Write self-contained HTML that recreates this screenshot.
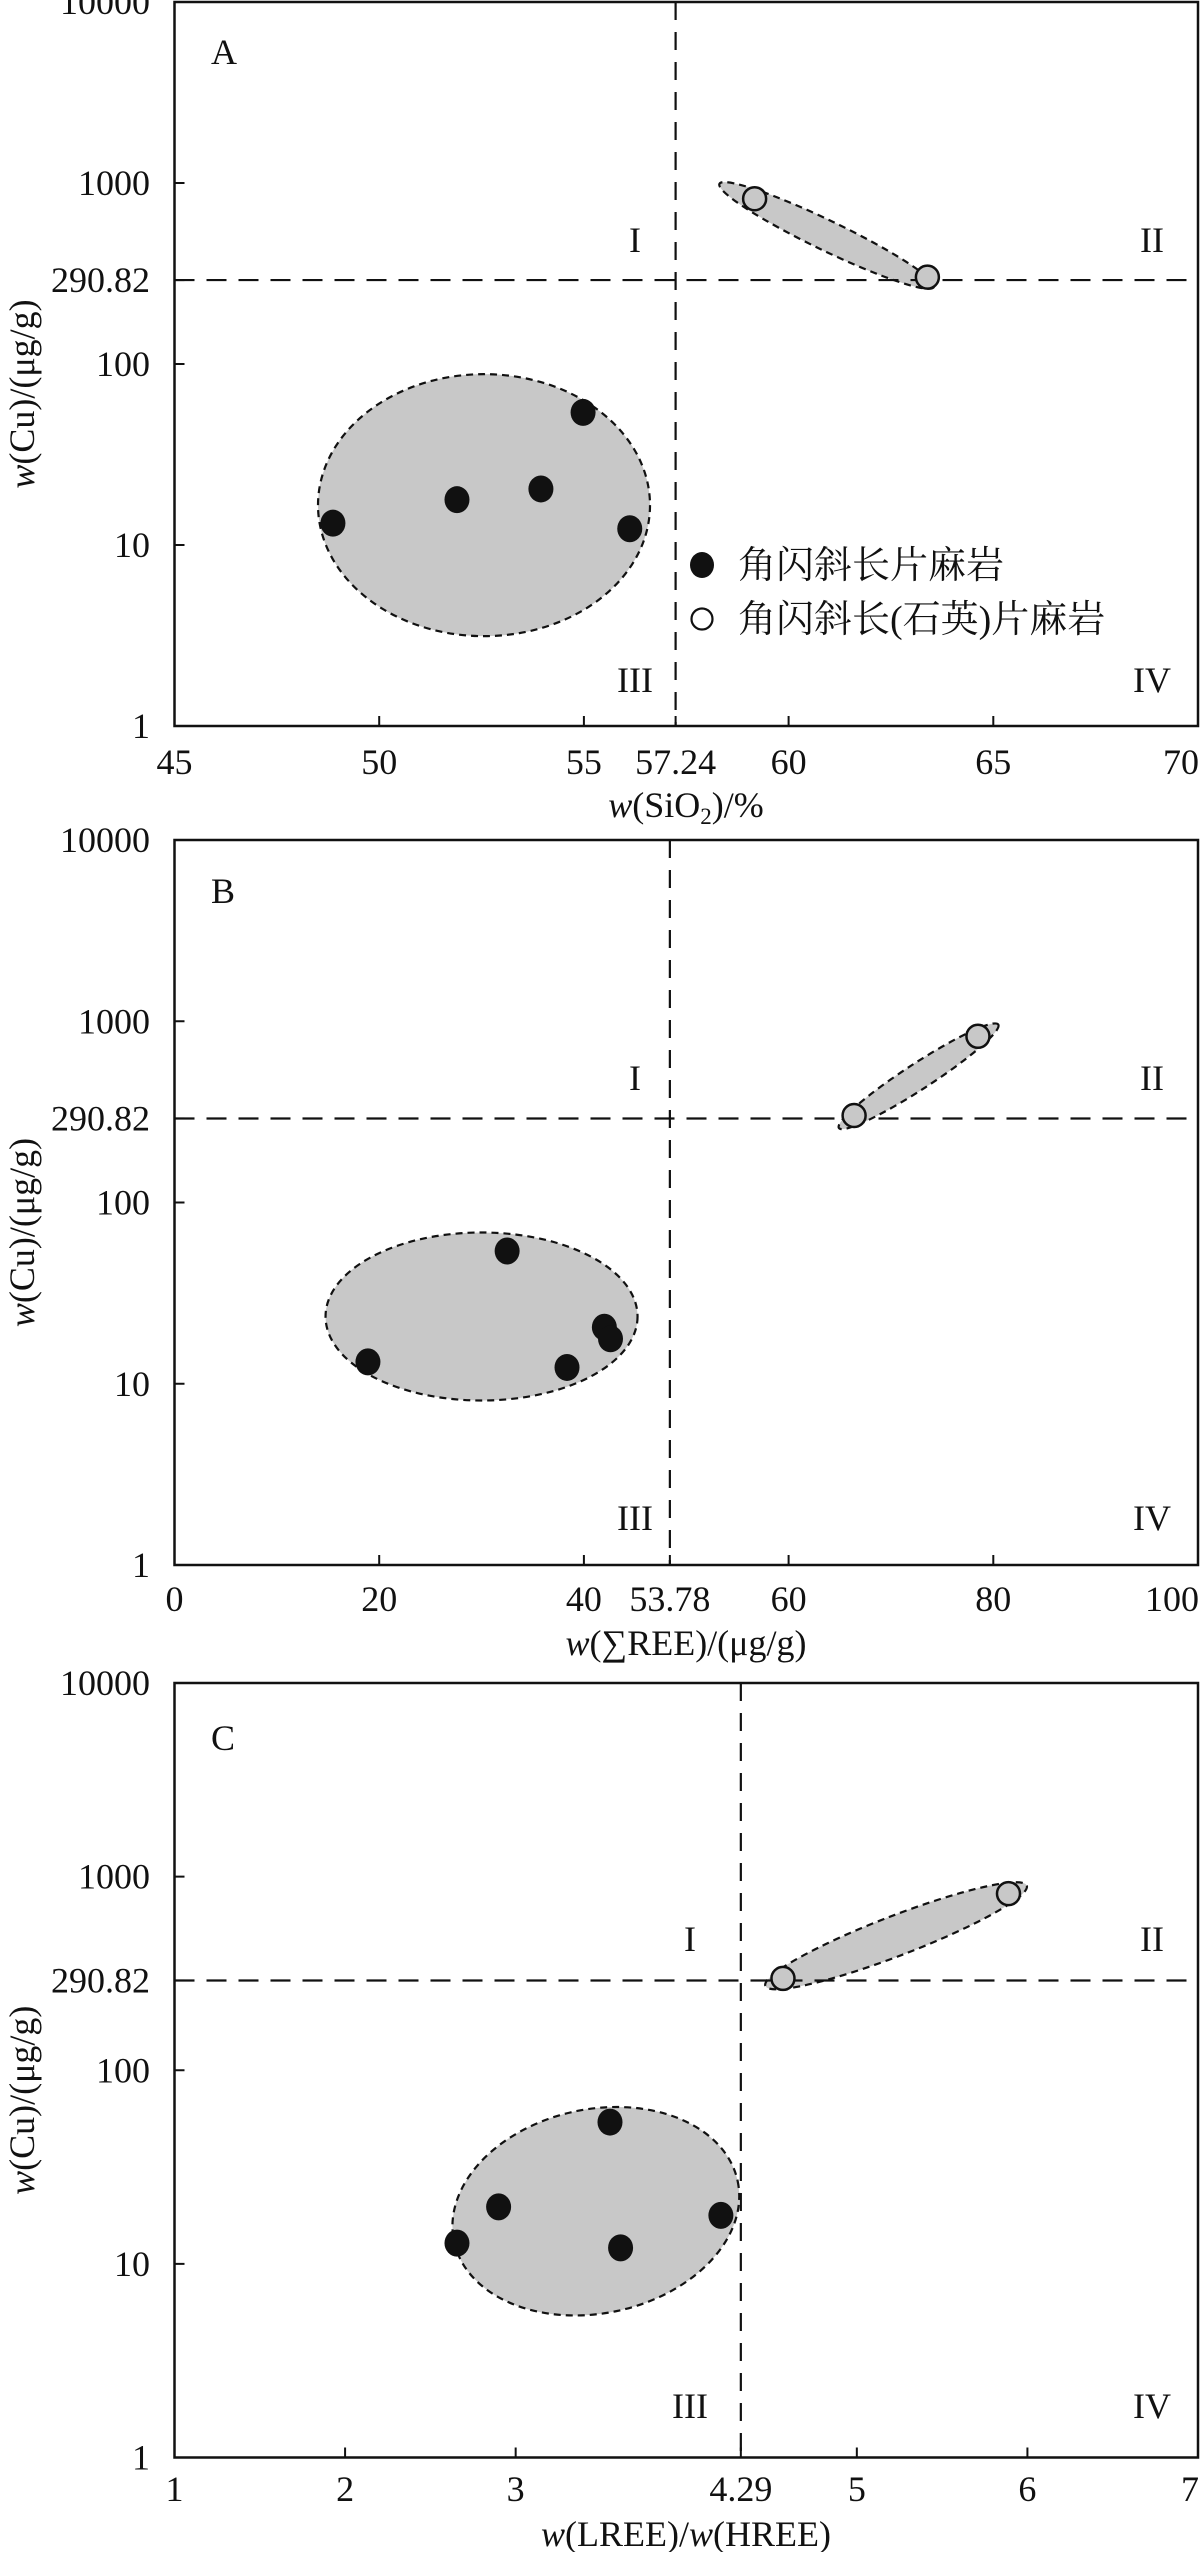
<!DOCTYPE html>
<html><head><meta charset="utf-8">
<style>
html,body{margin:0;padding:0;background:#fff;}
svg{display:block;}
text{font-family:"Liberation Serif","Noto Serif CJK SC","Noto Sans CJK SC",serif;fill:#111;}
</style></head>
<body>
<svg id="fig" width="1200" height="2552" viewBox="0 0 1200 2552" xmlns="http://www.w3.org/2000/svg"></svg>
<script>
// ---- Data ----
const cuFilled = [13.2, 17.8, 20.4, 54, 12.3];
const cuOpen = [819, 302];
const sio2Filled = [48.87, 51.9, 53.95, 54.98, 56.12];
const sio2Open = [59.17, 63.39];
const reeFilled = [18.9, 32.5, 42.0, 42.6, 38.35];
const reeOpen = [66.4, 78.5];
const cuFilledB = [13.2, 54, 20.5, 17.7, 12.3];
const cuOpenB = [302, 826];
const lhFilled = [2.656, 2.90, 3.553, 3.615, 4.203];
const lhOpen = [4.567, 5.889];
const cuFilledC = [12.8, 19.7, 54, 12.1, 17.8];
const cuOpenC = [298, 817];
const yTicks = [1, 10, 100, 1000, 10000];
const yThreshold = 290.82;
const xTicksA = [45, 50, 55, 60, 65, 70];
const xTicksB = [0, 20, 40, 60, 80, 100];
const xTicksC = [1, 2, 3, 5, 6, 7];
const xThreshA = 57.24, xThreshB = 53.78, xThreshC = 4.29;
// position where the original figure draws the threshold line (B is drawn off-scale in the source)
const xThreshDrawA = 57.24, xThreshDrawB = 48.4, xThreshDrawC = 4.32;
// ellipse fields: [cx value, cy value (Cu), rx px, ry px, rotation deg]
const fieldA = [[52.56, 16.6, 166, 131, 0], [60.93, 513, 119, 15, 25.7]];
const fieldB = [[30.0, 23.5, 156, 84, 0], [72.7, 497, 95, 13, -33]];
const fieldC = [[3.47, 18.7, 145, 102, -12], [5.23, 495, 140, 20, -21]];

const NS = "http://www.w3.org/2000/svg";
const svg = document.getElementById("fig");
const FS = 36;
function mk(tag, attrs, parent) {
  const e = document.createElementNS(NS, tag);
  for (const k in attrs) e.setAttribute(k, attrs[k]);
  (parent || svg).appendChild(e);
  return e;
}

function panel(cfg) {
  const g = mk("g", {});
  
  
  const L = 174.5, R = 1198, T = cfg.top, B = cfg.bottom;
  const xs = v => L + (v - cfg.xmin) / (cfg.xmax - cfg.xmin) * (R - L);
  const ys = v => B - Math.log10(v) / 4 * (B - T);

  cfg.fields.forEach((f, i) => {
    const e = mk("ellipse", {cx: xs(f[0]), cy: ys(f[1]), rx: f[2], ry: f[3],
      transform: `rotate(${f[4]} ${xs(f[0])} ${ys(f[1])})`,
      fill: "#c8c8c8", stroke: "#111", "stroke-width": 2.2, "stroke-dasharray": "7 5"}, g);
    
    
  });

  const hl = mk("line", {x1: L, x2: R, y1: ys(yThreshold), y2: ys(yThreshold), stroke: "#111", "stroke-width": 2.2, "stroke-dasharray": "20 12"}, g);
  
  
  const vx = xs(cfg.xthDraw);
  const vl = mk("line", {x1: vx, x2: vx, y1: T, y2: B, stroke: "#111", "stroke-width": 2.2, "stroke-dasharray": "18 12"}, g);
  
  

  const fr = mk("rect", {x: L, y: T, width: R - L, height: B - T, fill: "none", stroke: "#111", "stroke-width": 2.5}, g);
  
  

  yTicks.concat([yThreshold]).forEach(v => {
    const y = ys(v);
    mk("line", {x1: L, x2: L + 10, y1: y, y2: y, stroke: "#111", "stroke-width": 2}, g);
    const t = mk("text", {x: 150, y: y + 12, "text-anchor": "end", "font-size": FS}, g);
    t.textContent = (v === yThreshold ? "290.82" : String(v));
    
    
  });
  cfg.xticks.forEach((v, i) => {
    const x = xs(v);
    mk("line", {x1: x, x2: x, y1: B, y2: B - 10, stroke: "#111", "stroke-width": 2}, g);
    const last = i === cfg.xticks.length - 1;
    const t = mk("text", {x: last ? 1199 : x, y: cfg.tickY, "text-anchor": last ? "end" : "middle", "font-size": FS}, g);
    t.textContent = String(v);
    
    
  });
  mk("line", {x1: vx, x2: vx, y1: B, y2: B - 10, stroke: "#111", "stroke-width": 2}, g);
  const tt = mk("text", {x: vx, y: cfg.tickY, "text-anchor": "middle", "font-size": FS}, g);
  tt.textContent = String(cfg.xth);
  
  

  const yt = mk("text", {x: 0, y: 0, "text-anchor": "middle", "font-size": FS,
    transform: `translate(34 ${(T + B) / 2 + 30}) rotate(-90)`}, g);
  yt.innerHTML = '<tspan font-style="italic">w</tspan>(Cu)/(μg/g)';
  
  
  const xt = mk("text", {x: 686, y: cfg.titleY, "text-anchor": "middle", "font-size": FS}, g);
  xt.innerHTML = cfg.xtitle;
  
  

  const pl = mk("text", {x: 211, y: cfg.letterY, "font-size": FS}, g);
  pl.textContent = cfg.id;
  
  

  const qx = cfg.qx;
  [["I", qx, cfg.qTop], ["II", 1152, cfg.qTop], ["III", qx, cfg.qBot], ["IV", 1152, cfg.qBot]].forEach(q => {
    const t = mk("text", {x: q[1], y: q[2] + 12, "text-anchor": "middle", "font-size": FS}, g);
    t.textContent = q[0];
    
    
  });

  cfg.fx.forEach((v, i) => {
    const c = mk("ellipse", {cx: xs(v), cy: ys(cfg.fy[i]), rx: 12.5, ry: 13.5, fill: "#111"}, g);
    
    
  });
  cfg.ox.forEach((v, i) => {
    const c = mk("circle", {cx: xs(v), cy: ys(cfg.oy[i]), r: 11.5, fill: "#c8c8c8", stroke: "#111", "stroke-width": 2.5}, g);
    
    
  });
  return g;
}

panel({id: "A", top: 2, bottom: 726, xmin: 45, xmax: 70, xticks: xTicksA, xth: xThreshA, xthDraw: xThreshDrawA,
  fields: fieldA, fx: sio2Filled, fy: cuFilled, ox: sio2Open, oy: cuOpen,
  tickY: 774, titleY: 817, qx: 635, qTop: 240, qBot: 680, letterY: 64,
  xtitle: '<tspan font-style="italic">w</tspan>(SiO<tspan font-size="23" dy="7">2</tspan><tspan dy="-7">)/%</tspan>'});
panel({id: "B", top: 840, bottom: 1565, xmin: 0, xmax: 100, xticks: xTicksB, xth: xThreshB, xthDraw: xThreshDrawB,
  fields: fieldB, fx: reeFilled, fy: cuFilledB, ox: reeOpen, oy: cuOpenB,
  tickY: 1611, titleY: 1655, qx: 635, qTop: 1078, qBot: 1518, letterY: 903,
  xtitle: '<tspan font-style="italic">w</tspan>(∑REE)/(μg/g)'});
panel({id: "C", top: 1683, bottom: 2457.5, xmin: 1, xmax: 7, xticks: xTicksC, xth: xThreshC, xthDraw: xThreshDrawC,
  fields: fieldC, fx: lhFilled, fy: cuFilledC, ox: lhOpen, oy: cuOpenC,
  tickY: 2501, titleY: 2546, qx: 690, qTop: 1939, qBot: 2406, letterY: 1750,
  xtitle: '<tspan font-style="italic">w</tspan>(LREE)/<tspan font-style="italic">w</tspan>(HREE)'});

const lg = mk("g", {});


const l1 = mk("ellipse", {cx: 702, cy: 565, rx: 12, ry: 13, fill: "#111"}, lg);


const t1 = mk("text", {x: 738, y: 578, "font-size": 38}, lg);
t1.textContent = "角闪斜长片麻岩";


const l2 = mk("circle", {cx: 702, cy: 619, r: 10.5, fill: "#fff", stroke: "#111", "stroke-width": 2.2}, lg);


const t2 = mk("text", {x: 738, y: 632, "font-size": 38}, lg);
t2.textContent = "角闪斜长(石英)片麻岩";


</script>
</body></html>
